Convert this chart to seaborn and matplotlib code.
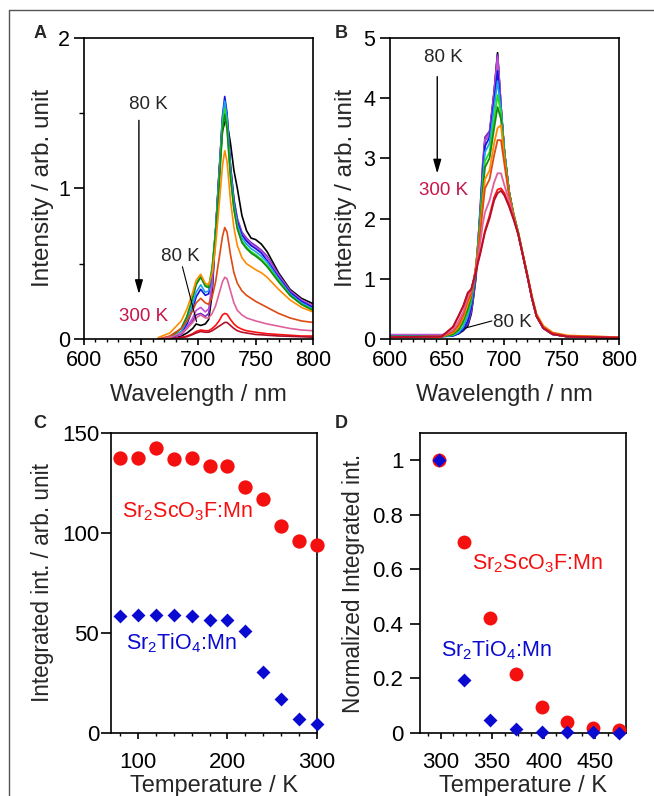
import numpy as np
import pandas as pd
import seaborn as sns
import matplotlib.pyplot as plt
from matplotlib.ticker import MultipleLocator
from matplotlib.lines import Line2D

sns.set_theme(style='ticks')
plt.rcParams['font.family'] = ['Liberation Sans', 'DejaVu Sans']
plt.rcParams['mathtext.default'] = 'regular'
plt.rcParams['axes.linewidth'] = 1.2

# temperatures of the spectra (K) and their line colours
temps = [80, 100, 120, 140, 160, 180, 200, 220, 240, 260, 280, 300]
colours = ['#000000', '#7a2bc4', '#c04fd8', '#1414e0', '#1e9ff0', '#22dd22',
           '#138a13', '#ff8c00', '#dd4a12', '#e0609a', '#ff1010', '#b3102a']

# panel A: Sr2TiO4:Mn spectra
wl_a = [665, 675, 685, 690, 695, 698, 702, 706, 709, 712, 715, 718, 721, 723,
        725, 728, 731, 734, 738, 742, 746, 750, 755, 760, 770, 780, 790, 800]
a_080 = [0.0, 0.005, 0.02, 0.04, 0.07, 0.1, 0.09, 0.1, 0.13, 0.3, 0.7, 1.1, 1.38, 1.44,
         1.44, 1.3, 1.12, 1.0, 0.82, 0.72, 0.67, 0.66, 0.63, 0.58, 0.44, 0.33, 0.27, 0.235]
a_100 = [0.0, 0.005, 0.03, 0.07, 0.12, 0.16, 0.17, 0.15, 0.17, 0.35, 0.72, 1.1, 1.45, 1.56,
         1.48, 1.15, 0.93, 0.8, 0.71, 0.67, 0.64, 0.62, 0.59, 0.55, 0.43, 0.32, 0.26, 0.22]
a_120 = [0.0, 0.005, 0.03, 0.08, 0.14, 0.19, 0.21, 0.18, 0.2, 0.38, 0.72, 1.1, 1.46, 1.57,
         1.48, 1.14, 0.92, 0.79, 0.7, 0.66, 0.63, 0.61, 0.58, 0.54, 0.42, 0.32, 0.26, 0.22]
a_140 = [0.0, 0.005, 0.04, 0.1, 0.2, 0.28, 0.33, 0.29, 0.3, 0.45, 0.72, 1.08, 1.48, 1.61,
         1.5, 1.15, 0.92, 0.78, 0.69, 0.65, 0.62, 0.6, 0.57, 0.52, 0.41, 0.31, 0.25, 0.21]
a_160 = [0.0, 0.01, 0.05, 0.12, 0.23, 0.31, 0.36, 0.31, 0.32, 0.46, 0.72, 1.06, 1.46, 1.58,
         1.47, 1.12, 0.9, 0.76, 0.67, 0.63, 0.6, 0.58, 0.55, 0.51, 0.4, 0.3, 0.24, 0.2]
a_180 = [0.0, 0.01, 0.07, 0.15, 0.28, 0.37, 0.42, 0.36, 0.35, 0.48, 0.72, 1.04, 1.42, 1.53,
         1.42, 1.09, 0.87, 0.74, 0.65, 0.61, 0.58, 0.56, 0.53, 0.49, 0.39, 0.29, 0.23, 0.195]
a_200 = [0.0, 0.01, 0.07, 0.15, 0.27, 0.36, 0.41, 0.35, 0.34, 0.46, 0.7, 1.0, 1.38, 1.49,
         1.39, 1.07, 0.86, 0.73, 0.64, 0.6, 0.57, 0.55, 0.52, 0.48, 0.38, 0.29, 0.23, 0.19]
a_220 = [0.01, 0.04, 0.12, 0.2, 0.31, 0.39, 0.43, 0.37, 0.36, 0.44, 0.62, 0.88, 1.15, 1.25,
         1.18, 0.92, 0.74, 0.62, 0.54, 0.5, 0.48, 0.46, 0.44, 0.41, 0.33, 0.26, 0.21, 0.18]
a_240 = [0.0, 0.02, 0.07, 0.12, 0.19, 0.24, 0.27, 0.24, 0.23, 0.28, 0.38, 0.53, 0.68, 0.74,
         0.71, 0.56, 0.44, 0.37, 0.32, 0.29, 0.27, 0.25, 0.23, 0.21, 0.17, 0.14, 0.12, 0.11]
a_260 = [0.0, 0.01, 0.04, 0.07, 0.11, 0.14, 0.16, 0.14, 0.14, 0.17, 0.22, 0.3, 0.38, 0.41,
         0.4, 0.32, 0.24, 0.19, 0.16, 0.14, 0.13, 0.12, 0.11, 0.1, 0.085, 0.07, 0.06, 0.055]
a_280 = [0.0, 0.0, 0.01, 0.02, 0.035, 0.05, 0.06, 0.055, 0.055, 0.07, 0.09, 0.12, 0.16, 0.17,
         0.165, 0.13, 0.1, 0.08, 0.065, 0.055, 0.05, 0.045, 0.04, 0.035, 0.03, 0.025, 0.02, 0.02]
a_300 = [0.0, 0.0, 0.01, 0.015, 0.03, 0.04, 0.05, 0.045, 0.045, 0.055, 0.07, 0.085, 0.1, 0.11,
         0.11, 0.09, 0.07, 0.055, 0.045, 0.04, 0.035, 0.03, 0.028, 0.025, 0.02, 0.018, 0.015, 0.012]

# panel B: Sr2ScO3F:Mn spectra
wl_b = [600, 645, 655, 660, 664, 668, 671, 673, 675, 677, 679, 681, 683, 687, 691,
        694, 697, 700, 704, 708, 712, 716, 720, 724, 728, 734, 742, 755, 800]
b_080 = [0.05, 0.05, 0.06, 0.09, 0.14, 0.22, 0.42, 0.7, 1.0, 1.5, 2.1, 2.8, 3.3, 3.4, 4.1,
         4.75, 3.85, 3.1, 2.45, 2.05, 1.75, 1.4, 1.05, 0.68, 0.38, 0.18, 0.08, 0.04, 0.02]
b_100 = [0.07, 0.07, 0.08, 0.11, 0.16, 0.25, 0.45, 0.72, 1.05, 1.6, 2.2, 2.9, 3.35, 3.45, 4.1,
         4.72, 3.85, 3.1, 2.45, 2.05, 1.75, 1.4, 1.05, 0.68, 0.38, 0.18, 0.08, 0.04, 0.02]
b_120 = [0.07, 0.07, 0.08, 0.12, 0.18, 0.3, 0.5, 0.78, 1.1, 1.62, 2.2, 2.85, 3.3, 3.4, 4.05,
         4.68, 3.85, 3.1, 2.45, 2.05, 1.75, 1.4, 1.05, 0.68, 0.38, 0.18, 0.08, 0.04, 0.02]
b_140 = [0.04, 0.04, 0.05, 0.09, 0.16, 0.3, 0.52, 0.8, 1.12, 1.6, 2.15, 2.75, 3.2, 3.35, 3.95,
         4.45, 3.8, 3.1, 2.45, 2.05, 1.75, 1.4, 1.05, 0.68, 0.38, 0.18, 0.08, 0.04, 0.02]
b_160 = [0.04, 0.04, 0.06, 0.11, 0.2, 0.38, 0.6, 0.85, 1.15, 1.6, 2.1, 2.65, 3.1, 3.25, 3.85,
         4.28, 3.8, 3.1, 2.45, 2.05, 1.75, 1.4, 1.05, 0.68, 0.38, 0.18, 0.08, 0.04, 0.02]
b_180 = [0.04, 0.04, 0.07, 0.14, 0.26, 0.45, 0.66, 0.9, 1.18, 1.58, 2.05, 2.55, 2.95, 3.1, 3.65,
         4.05, 3.75, 3.1, 2.45, 2.08, 1.78, 1.42, 1.07, 0.7, 0.4, 0.19, 0.09, 0.04, 0.02]
b_200 = [0.04, 0.04, 0.08, 0.16, 0.3, 0.5, 0.7, 0.92, 1.2, 1.55, 1.98, 2.45, 2.85, 3.0, 3.5,
         3.85, 3.65, 3.05, 2.45, 2.08, 1.78, 1.42, 1.07, 0.7, 0.4, 0.19, 0.09, 0.04, 0.02]
b_220 = [0.03, 0.04, 0.1, 0.2, 0.35, 0.58, 0.74, 0.95, 1.2, 1.5, 1.88, 2.3, 2.65, 2.8, 3.25,
         3.5, 3.55, 3.0, 2.42, 2.05, 1.76, 1.42, 1.07, 0.72, 0.42, 0.22, 0.11, 0.06, 0.03]
b_240 = [0.03, 0.04, 0.12, 0.24, 0.4, 0.64, 0.76, 0.95, 1.18, 1.45, 1.78, 2.15, 2.5, 2.65, 3.05,
         3.3, 3.3, 2.9, 2.38, 2.03, 1.75, 1.4, 1.06, 0.7, 0.4, 0.2, 0.1, 0.05, 0.03]
b_260 = [0.03, 0.04, 0.15, 0.3, 0.45, 0.7, 0.8, 0.96, 1.15, 1.38, 1.62, 1.9, 2.1, 2.3, 2.6,
         2.75, 2.75, 2.55, 2.3, 2.02, 1.75, 1.4, 1.05, 0.68, 0.38, 0.18, 0.08, 0.04, 0.02]
b_280 = [0.03, 0.04, 0.2, 0.38, 0.54, 0.76, 0.82, 0.98, 1.12, 1.3, 1.45, 1.62, 1.8, 2.05, 2.35,
         2.48, 2.5, 2.42, 2.22, 2.0, 1.75, 1.4, 1.05, 0.68, 0.38, 0.18, 0.08, 0.04, 0.02]
b_300 = [0.03, 0.04, 0.2, 0.39, 0.55, 0.77, 0.83, 0.97, 1.1, 1.27, 1.42, 1.6, 1.77, 2.0, 2.3,
         2.42, 2.46, 2.38, 2.2, 1.98, 1.74, 1.4, 1.05, 0.68, 0.38, 0.18, 0.08, 0.04, 0.02]

# panel C: integrated intensity vs temperature
temp_c = [80, 100, 120, 140, 160, 180, 200, 220, 240, 260, 280, 300]
sc_int = [137.7, 137.3, 142.3, 137.0, 137.7, 133.5, 133.5, 122.8, 116.8, 103.5, 96.2, 94.0]
ti_int = [58.5, 59.0, 59.0, 59.0, 58.3, 56.3, 56.3, 51.0, 30.7, 16.8, 6.8, 4.5]

# panel D: normalized integrated intensity at high temperature
temp_d = [298, 323, 348, 373, 398, 423, 448, 473]
sc_norm = [1.0, 0.70, 0.42, 0.215, 0.095, 0.04, 0.02, 0.012]
ti_norm = [1.0, 0.195, 0.048, 0.015, 0.005, 0.004, 0.002, 0.001]

red = '#f51010'
blue = '#0a0ad0'
crimson = '#c8144a'


def spectra_frame(wl, curves):
    rows = []
    for t, vals in zip(temps, curves):
        rows.append(pd.DataFrame({'wl': wl, 'I': vals, 'T': t}))
    return pd.concat(rows, ignore_index=True)


def style_axis(ax, size, xpad, ypad):
    for s in ax.spines.values():
        s.set_linewidth(1.2)
        s.set_color('black')
    ax.tick_params(which='both', direction='out', colors='black')
    ax.tick_params(axis='x', which='major', length=4.5, width=1.2, pad=xpad, labelsize=size)
    ax.tick_params(axis='y', which='major', length=7, width=1.2, pad=ypad, labelsize=size)
    ax.tick_params(axis='x', which='minor', length=2.5, width=1.0)
    ax.tick_params(axis='y', which='minor', length=3.5, width=1.0)
    ax.set_facecolor('white')


fig = plt.figure(figsize=(6.54, 7.96), dpi=100)
ax_a = fig.add_axes([0.1284, 0.5741, 0.350, 0.3785])
ax_b = fig.add_axes([0.5963, 0.5741, 0.350, 0.3785])
ax_c = fig.add_axes([0.1697, 0.0791, 0.315, 0.3769])
ax_d = fig.add_axes([0.6422, 0.0791, 0.315, 0.3769])
pal = dict(zip(temps, colours))
note = 13.5
chem = 15.5

# A
df_a = spectra_frame(wl_a, [a_080, a_100, a_120, a_140, a_160, a_180,
                            a_200, a_220, a_240, a_260, a_280, a_300])
sns.lineplot(data=df_a, x='wl', y='I', hue='T', palette=pal, legend=False,
             estimator=None, linewidth=1.2, ax=ax_a)
ax_a.set_xlim(600, 800)
ax_a.set_ylim(0, 2)
ax_a.xaxis.set_major_locator(MultipleLocator(50))
ax_a.xaxis.set_minor_locator(MultipleLocator(10))
ax_a.yaxis.set_major_locator(MultipleLocator(1))
ax_a.yaxis.set_minor_locator(MultipleLocator(0.5))
style_axis(ax_a, 15.5, 3.4, 3)
ax_a.set_xlabel('Wavelength / nm', fontsize=17, labelpad=9.5)
ax_a.set_ylabel('Intensity / arb. unit', fontsize=17.5)
ax_a.yaxis.set_label_coords(-0.131, 0.5)
ax_a.text(656, 1.56, '80 K', fontsize=note, ha='center', va='center')
ax_a.annotate('', xy=(648, 0.28), xytext=(648, 1.47),
              arrowprops=dict(arrowstyle='-|>,head_width=0.2,head_length=0.7',
                              color='black', lw=1))
ax_a.text(652, 0.15, '300 K', fontsize=note, ha='center', va='center', color=crimson)
ax_a.text(684, 0.545, '80 K', fontsize=note, ha='center', va='center')
ax_a.plot([686, 698.4], [0.48, 0.115], color='black', lw=0.8)

# B
df_b = spectra_frame(wl_b, [b_080, b_100, b_120, b_140, b_160, b_180,
                            b_200, b_220, b_240, b_260, b_280, b_300])
sns.lineplot(data=df_b, x='wl', y='I', hue='T', palette=pal, legend=False,
             estimator=None, linewidth=1.3, ax=ax_b)
ax_b.set_xlim(600, 800)
ax_b.set_ylim(0, 5)
ax_b.xaxis.set_major_locator(MultipleLocator(50))
ax_b.xaxis.set_minor_locator(MultipleLocator(10))
ax_b.yaxis.set_major_locator(MultipleLocator(1))
style_axis(ax_b, 15.5, 3.4, 3.5)
ax_b.set_xlabel('Wavelength / nm', fontsize=17, labelpad=9.5)
ax_b.set_ylabel('Intensity / arb. unit', fontsize=17.5)
ax_b.yaxis.set_label_coords(-0.144, 0.5)
ax_b.text(646.6, 4.68, '80 K', fontsize=note, ha='center', va='center')
ax_b.annotate('', xy=(641.3, 2.7), xytext=(641.3, 4.4),
              arrowprops=dict(arrowstyle='-|>,head_width=0.2,head_length=0.7',
                              color='black', lw=1))
ax_b.text(646.6, 2.46, '300 K', fontsize=note, ha='center', va='center', color=crimson)
ax_b.text(707, 0.27, '80 K', fontsize=note, ha='center', va='center')
ax_b.plot([689, 665.5], [0.3, 0.18], color='black', lw=0.8)

# C
sns.scatterplot(x=temp_c, y=sc_int, color=red, marker='o', s=106, linewidth=0,
                clip_on=False, zorder=3, ax=ax_c)
sns.scatterplot(x=temp_c, y=ti_int, color=blue, marker='D', s=50, linewidth=0,
                clip_on=False, zorder=3, ax=ax_c)
ax_c.set_xlim(70, 300)
ax_c.set_ylim(0, 150)
ax_c.xaxis.set_major_locator(MultipleLocator(100))
ax_c.xaxis.set_minor_locator(MultipleLocator(20))
ax_c.yaxis.set_major_locator(MultipleLocator(50))
style_axis(ax_c, 16, 9, 1.5)
ax_c.set_xlabel('Temperature / K', fontsize=17, labelpad=1.5)
ax_c.set_ylabel('Integrated int. / arb. unit', fontsize=16.3)
ax_c.yaxis.set_label_coords(-0.277, 0.5)
ax_c.text(155, 110.7, r'Sr$_2$ScO$_3$F:Mn', fontsize=chem, ha='center', va='center', color=red)
ax_c.text(148.7, 44.8, r'Sr$_2$TiO$_4$:Mn', fontsize=chem, ha='center', va='center', color=blue)

# D
sns.scatterplot(x=temp_d, y=sc_norm, color=red, marker='o', s=100, linewidth=0,
                clip_on=False, zorder=3, ax=ax_d)
sns.scatterplot(x=temp_d, y=ti_norm, color=blue, marker='D', s=50, linewidth=0,
                clip_on=False, zorder=4, ax=ax_d)
ax_d.set_xlim(280, 480)
ax_d.set_ylim(0, 1.1)
ax_d.xaxis.set_major_locator(MultipleLocator(50))
ax_d.xaxis.set_minor_locator(MultipleLocator(12.5))
ax_d.yaxis.set_major_locator(MultipleLocator(0.2))
ax_d.yaxis.set_major_formatter(lambda v, p: '{:g}'.format(round(v, 1)))
style_axis(ax_d, 16, 9, 5)
ax_d.set_xlabel('Temperature / K', fontsize=17, labelpad=1.5)
ax_d.set_ylabel('Normalized Integrated int.', fontsize=16.3)
ax_d.yaxis.set_label_coords(-0.267, 0.5)
ax_d.text(394.6, 0.62, r'Sr$_2$ScO$_3$F:Mn', fontsize=chem, ha='center', va='center', color=red)
ax_d.text(354.2, 0.303, r'Sr$_2$TiO$_4$:Mn', fontsize=chem, ha='center', va='center', color=blue)

# panel letters
for lab, x, y in [('A', 40, 33), ('B', 341, 33), ('C', 40, 424), ('D', 341, 424)]:
    fig.text(x / 654, 1 - y / 796, lab, fontsize=13, fontweight='bold',
             ha='center', va='center')

# thin frame along top and left edge
fig.add_artist(Line2D([9 / 654, 1], [1 - 10 / 796, 1 - 10 / 796],
                      color='#555555', lw=1, transform=fig.transFigure))
fig.add_artist(Line2D([9 / 654, 9 / 654], [0, 1 - 10 / 796],
                      color='#555555', lw=1, transform=fig.transFigure))

fig.savefig('out.png', dpi=100, facecolor='white')
